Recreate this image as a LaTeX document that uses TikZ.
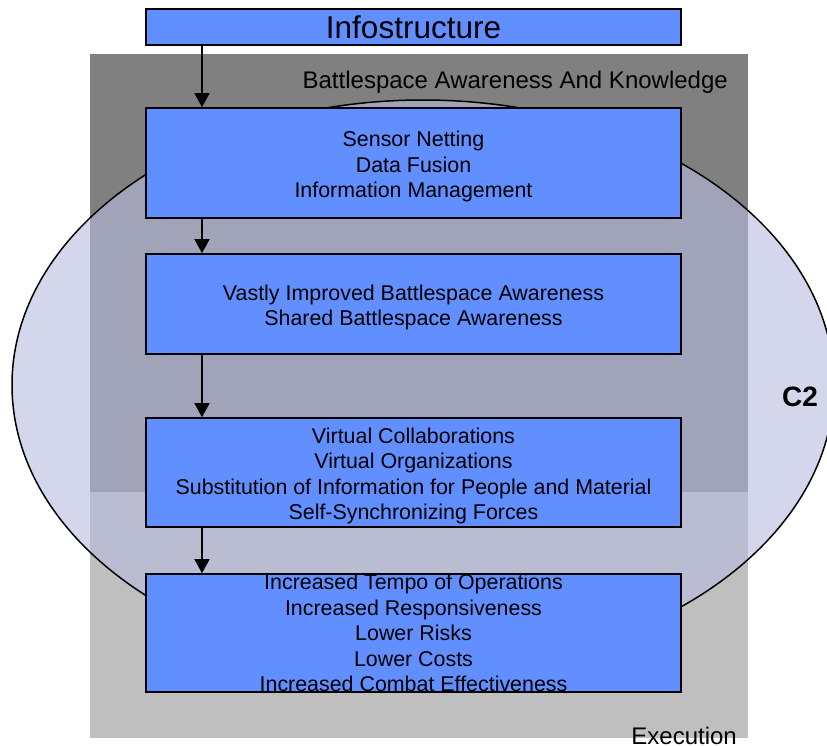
\documentclass[tikz,border=0pt]{standalone}
\usepackage{fontspec}
\setmainfont{Liberation Sans}
\usetikzlibrary{shapes.geometric,arrows.meta}
\definecolor{boxblue}{RGB}{97,143,255}
\definecolor{c2tint}{RGB}{183,188,222}
\newcommand\topstrut{\rule{0pt}{22.5pt}}

\begin{document}
\begin{tikzpicture}[x=1pt, y=-1pt,
        zone/.style={rectangle, inner sep=0pt, minimum width=658pt},
        c2zone/.style={ellipse, draw=black, line width=1.5pt, fill=c2tint, fill opacity=0.6, minimum width=822pt, minimum height=570pt, inner sep=0pt},
        box/.style={rectangle, draw=black, line width=1.6pt, fill=boxblue, minimum width=535pt, inner sep=0pt, align=center, font=\fontsize{21.4}{25.5}\selectfont},
        arrow/.style={-{Triangle[length=14pt, width=15pt]}, line width=1.3pt},
        zonelabel/.style={inner sep=0pt, font=\fontsize{24}{28}\selectfont}
    ]

    \useasboundingbox (0,0) rectangle (827,745);

    % background zones
    \node[zone, fill=black!50, minimum height=438pt] (aware) at (419,273) {};
    \node[zone, fill=black!25, minimum height=246pt] (exec) at (419,615) {};
    \node[c2zone] (c2) at (423,385) {};

    \node[zonelabel, anchor=base east] (awaretitle) at (728,88) {Battlespace Awareness And Knowledge};
    \node[zonelabel, anchor=base east] (exectitle) at (737,744) {Execution};
    \node[inner sep=0pt, anchor=base west, font=\bfseries\fontsize{28}{32}\selectfont] (c2title) at (782,406) {C2};

    % chain of boxes
    \node[box, minimum height=36pt, font=\fontsize{31.5}{36}\selectfont] (info) at (413.5,27) {Infostructure};
    \node[box, minimum height=110pt] (sense) at (413.5,163) {\topstrut Sensor Netting\\Data Fusion\\Information Management};
    \node[box, minimum height=100pt] (shared) at (413.5,304) {\topstrut Vastly Improved Battlespace Awareness\\Shared Battlespace Awareness};
    \node[box, minimum height=109pt] (virtual) at (413.5,472.5) {\topstrut Virtual Collaborations\\Virtual Organizations\\Substitution of Information for People and Material\\Self-Synchronizing Forces};
    \node[box, minimum height=118pt] (tempo) at (413.5,633) {Increased Tempo of Operations\\Increased Responsiveness\\Lower Risks\\Lower Costs\\Increased Combat Effectiveness};

    \coordinate (spine) at (202,0);
    \draw[arrow] (info.south -| spine) -- (sense.north -| spine);
    \draw[arrow] (sense.south -| spine) -- (shared.north -| spine);
    \draw[arrow] (shared.south -| spine) -- (virtual.north -| spine);
    \draw[arrow] (virtual.south -| spine) -- (tempo.north -| spine);

\end{tikzpicture}
\end{document}
